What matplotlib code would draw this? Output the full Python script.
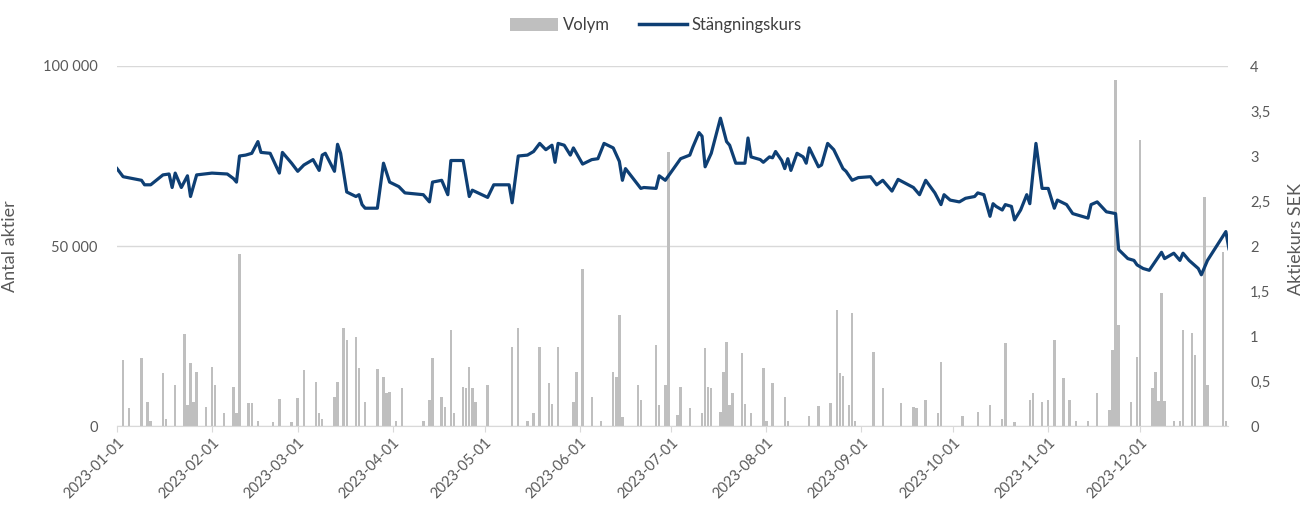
import numpy as np
import pandas as pd
import matplotlib
matplotlib.use('Agg')
import matplotlib.pyplot as plt
import matplotlib.dates as mdates
from matplotlib.patches import Patch
from matplotlib.lines import Line2D
from matplotlib.ticker import FuncFormatter, MultipleLocator

plt.rcParams['font.family'] = ['Lato', 'DejaVu Sans']

# ------------------------------------------------------------------
# data (day = days after 2023-01-01)
# ------------------------------------------------------------------
START = pd.Timestamp('2023-01-01')

price_day = [0, 2, 8, 9, 11, 15, 17, 18, 19, 21, 23, 24, 26, 31, 36, 38, 39, 40, 42, 44,
             46, 47, 50, 53, 54, 57, 59, 61, 64, 66, 67, 68, 71, 72, 73, 75, 78, 79, 80, 81,
             85, 87, 89, 92, 94, 100, 102, 103, 106, 108, 109, 113, 115, 116, 121, 123, 128, 129, 131, 134,
             136, 138, 140, 142, 143, 144, 146, 148, 149, 151, 152, 155, 157, 159, 162, 164, 165, 166, 171, 172,
             176, 177, 179, 184, 187, 188, 190, 191, 192, 194, 197, 199, 200, 202, 205, 206, 207, 210, 211, 213,
             214, 215, 217, 218, 219, 220, 222, 224, 225, 226, 229, 230, 232, 234, 237, 238, 240, 242, 246, 248,
             250, 253, 255, 260, 262, 264, 267, 269, 270, 272, 275, 277, 280, 281, 283, 285, 286, 287, 289, 290,
             292, 293, 295, 297, 298, 300, 302, 304, 306, 307, 310, 312, 317, 318, 320, 323, 326, 327, 330, 332,
             333, 335, 337, 341, 342, 345, 347, 348, 350, 353, 354, 356, 362, 363]
price = [2.86, 2.77, 2.73, 2.68, 2.68, 2.79, 2.80, 2.65, 2.81, 2.65, 2.78, 2.55, 2.79, 2.81, 2.80, 2.75, 2.71, 3.00, 3.01, 3.03,
         3.16, 3.04, 3.03, 2.81, 3.04, 2.92, 2.83, 2.90, 2.96, 2.84, 3.01, 3.03, 2.83, 3.13, 3.03, 2.60, 2.55, 2.57, 2.46, 2.42,
         2.42, 2.92, 2.71, 2.66, 2.59, 2.57, 2.49, 2.71, 2.73, 2.57, 2.95, 2.95, 2.55, 2.62, 2.54, 2.68, 2.68, 2.48, 3.00, 3.01,
         3.05, 3.14, 3.07, 3.12, 2.93, 3.14, 3.12, 3.01, 3.09, 2.97, 2.91, 2.96, 2.97, 3.14, 3.09, 2.94, 2.73, 2.86, 2.64, 2.65,
         2.64, 2.78, 2.73, 2.97, 3.01, 3.10, 3.26, 3.22, 2.88, 3.03, 3.42, 3.16, 3.12, 2.92, 2.92, 3.20, 2.99, 2.96, 2.93, 2.99,
         2.98, 3.05, 2.95, 2.86, 2.97, 2.84, 3.03, 2.99, 2.92, 3.09, 2.88, 2.90, 3.14, 3.07, 2.86, 2.83, 2.73, 2.76, 2.77, 2.68,
         2.73, 2.61, 2.74, 2.65, 2.57, 2.73, 2.59, 2.46, 2.57, 2.51, 2.49, 2.53, 2.55, 2.59, 2.57, 2.33, 2.47, 2.44, 2.40, 2.46,
         2.44, 2.29, 2.40, 2.57, 2.47, 3.14, 2.64, 2.64, 2.42, 2.51, 2.46, 2.36, 2.31, 2.46, 2.49, 2.38, 2.36, 1.96, 1.86, 1.84,
         1.79, 1.75, 1.73, 1.93, 1.86, 1.92, 1.84, 1.92, 1.84, 1.75, 1.68, 1.84, 2.16, 1.97]

vol_day = [2, 4, 8, 10, 11, 15, 16, 19, 22, 23, 24, 25, 26, 29, 31, 32, 35, 38, 39, 40,
           43, 44, 46, 51, 53, 57, 59, 61, 65, 66, 67, 71, 72, 74, 75, 78, 79, 81, 85, 87,
           88, 89, 91, 93, 100, 102, 103, 106, 107, 109, 110, 113, 114, 115, 116, 117, 121, 129, 131, 134,
           136, 138, 141, 142, 144, 149, 150, 152, 155, 158, 162, 163, 164, 165, 170, 171, 176, 177, 179, 180,
           183, 184, 187, 191, 192, 193, 194, 197, 198, 199, 200, 201, 204, 205, 207, 211, 212, 214, 218, 219,
           226, 229, 233, 235, 236, 237, 239, 240, 241, 247, 250, 256, 260, 261, 264, 268, 269, 276, 281, 285,
           289, 290, 293, 298, 299, 302, 304, 306, 309, 311, 313, 317, 320, 324, 325, 326, 327, 331, 333, 334,
           338, 339, 340, 341, 342, 345, 347, 348, 351, 352, 355, 356, 361, 362, 363]
volume = [18300, 4900, 18800, 6800, 1500, 14600, 2000, 11400, 25600, 5800, 17400, 6800, 15100, 5400, 16500, 11400, 3700, 10900, 3500, 47800,
          6300, 6500, 1500, 1000, 7400, 1200, 7700, 15600, 12300, 3500, 2000, 8100, 12300, 27100, 23900, 24800, 16000, 6800, 15700, 13700,
          9100, 9500, 1500, 10500, 1500, 7200, 18800, 8100, 5400, 26700, 3500, 10900, 10500, 16500, 10500, 6800, 11400, 22000, 27100, 1500,
          3500, 22000, 11900, 6000, 22000, 6800, 15100, 43500, 8100, 1500, 15100, 13700, 30800, 2500, 11400, 7200, 22500, 5800, 11400, 76100,
          3000, 10900, 4900, 3700, 21600, 10900, 10500, 4000, 15100, 23400, 5800, 9100, 20400, 6000, 3700, 16000, 1500, 11900, 8000, 1500,
          2800, 5600, 6500, 32200, 14600, 14000, 5800, 31500, 1500, 20600, 10500, 6300, 5400, 4900, 7200, 3700, 17900, 2700, 3800, 5800,
          2000, 23000, 1200, 7200, 9100, 6800, 7200, 23900, 13200, 7200, 1500, 1500, 9100, 4500, 21100, 96100, 28000, 6800, 19300, 79400,
          10500, 15100, 7000, 36900, 7000, 1500, 1500, 26700, 25900, 19700, 63700, 11400, 48400, 1500, 8100]

price_dates = START + pd.to_timedelta(price_day, unit='D')
vol_dates = START + pd.to_timedelta(vol_day, unit='D')

BAR_COLOR = '#bfbfbf'
LINE_COLOR = '#0e3f74'
TEXT_COLOR = '#595959'
GRID_COLOR = '#d9d9d9'

# ------------------------------------------------------------------
fig = plt.figure(figsize=(13.04, 5.09), dpi=100)
ax1 = fig.add_axes([117 / 1304, 1 - 426 / 509, 1111 / 1304, 360 / 509])
ax2 = ax1.twinx()

ax1.bar(vol_dates, volume, width=0.8, color=BAR_COLOR, zorder=2)
ax2.plot(price_dates, price, color=LINE_COLOR, linewidth=2.3, solid_joinstyle='round', zorder=3)

ax1.set_xlim(START, START + pd.Timedelta(days=362.7))
ax1.set_ylim(0, 100000)
ax2.set_ylim(0, 4)

ax1.yaxis.set_major_locator(MultipleLocator(50000))
ax1.yaxis.set_major_formatter(FuncFormatter(lambda v, p: f"{int(v):,}".replace(',', ' ')))
ax2.yaxis.set_major_locator(MultipleLocator(0.5))
ax2.yaxis.set_major_formatter(FuncFormatter(lambda v, p: f"{v:g}".replace('.', ',')))

ax1.xaxis.set_major_locator(mdates.MonthLocator())
ax1.xaxis.set_major_formatter(mdates.DateFormatter('%Y-%m-%d'))
for lbl in ax1.get_xticklabels():
    lbl.set_rotation(45)
    lbl.set_ha('right')
    lbl.set_rotation_mode('anchor')

ax1.grid(axis='y', color=GRID_COLOR, linewidth=1, zorder=0)
ax1.set_axisbelow(True)
for ax in (ax1, ax2):
    for s in ('top', 'left', 'right'):
        ax.spines[s].set_visible(False)
    ax.spines['bottom'].set_color(GRID_COLOR)
ax2.spines['bottom'].set_visible(False)

ax1.tick_params(axis='y', length=0, pad=14, labelsize=10.5, labelcolor=TEXT_COLOR)
ax2.tick_params(axis='y', length=0, pad=16, labelsize=10.5, labelcolor=TEXT_COLOR)
ax1.tick_params(axis='x', length=4, color=GRID_COLOR, pad=3, labelsize=10.5, labelcolor=TEXT_COLOR)

ax1.set_ylabel('Antal aktier', fontsize=13, color=TEXT_COLOR)
ax1.yaxis.set_label_coords(-0.089, 0.5)
ax2.set_ylabel('Aktiekurs SEK', fontsize=13, color=TEXT_COLOR, rotation=90)
ax2.yaxis.set_label_coords(1.054, 0.52)

handles = [Patch(facecolor=BAR_COLOR, edgecolor='none'),
           Line2D([0], [0], color=LINE_COLOR, linewidth=2.5)]
fig.legend(handles, ['Volym', 'Stängningskurs'], loc='center', bbox_to_anchor=(0.503, 0.951),
           ncol=2, frameon=False, fontsize=12, handlelength=2.9, handleheight=0.85,
           handletextpad=0.3, columnspacing=1.7, labelcolor='#404040')

fig.savefig('out.png', dpi=100)
